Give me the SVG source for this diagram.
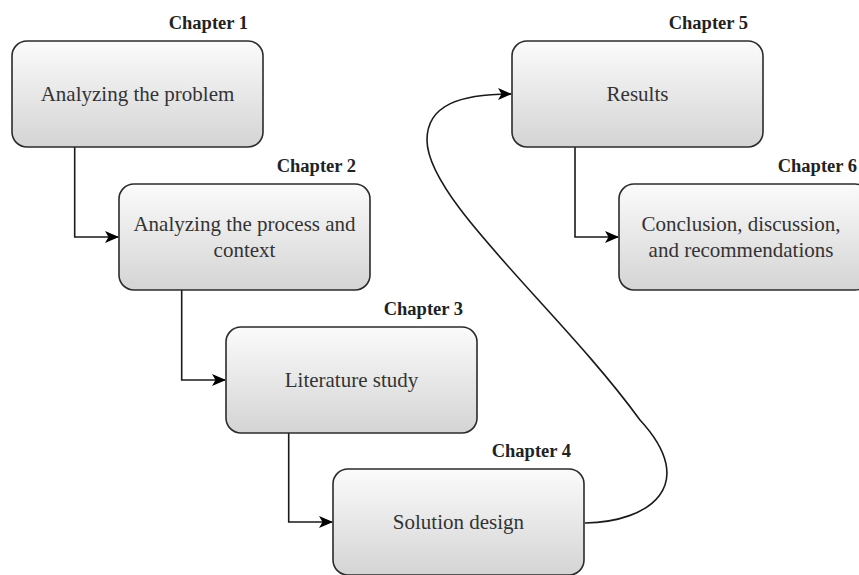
<svg xmlns="http://www.w3.org/2000/svg" width="859" height="575" viewBox="0 0 859 575">
<style>
.box{fill:url(#g);stroke:#2b2b2b;stroke-width:1.6}
.t{font-family:"Liberation Serif","Times New Roman",serif;font-size:21px;fill:#333;text-anchor:middle}
.c{font-family:"Liberation Serif","Times New Roman",serif;font-size:18.5px;font-weight:bold;fill:#222;text-anchor:end}
.e{fill:none;stroke:#1a1a1a;stroke-width:1.6}
</style>
<defs>
<linearGradient id="g" x1="0" y1="0" x2="0" y2="1">
<stop offset="0" stop-color="#fbfbfb"/>
<stop offset="1" stop-color="#d4d4d4"/>
</linearGradient>
<marker id="a" viewBox="0 0 14 12" refX="13" refY="6" markerWidth="14" markerHeight="12" markerUnits="userSpaceOnUse" orient="auto">
<path d="M0,0 L14,6 L0,12 L3.5,6 Z" fill="#000"/>
</marker>
</defs>
<g id="connectors">
<path class="e" d="M74.7,147 V237 H118" marker-end="url(#a)"/>
<path class="e" d="M181.7,290 V380 H225" marker-end="url(#a)"/>
<path class="e" d="M288.7,433 V522 H332" marker-end="url(#a)"/>
<path class="e" d="M575,147 V237 H618" marker-end="url(#a)"/>
<path class="e" d="M585,523 C650,522 700,485 640,420 C560,310 427,200 427,140 C427,105 460,94 511,94" marker-end="url(#a)"/>
</g>
<g id="n1">
<rect class="box" x="12" y="41" width="251" height="106" rx="15"/>
<text class="c" x="248" y="29">Chapter 1</text>
<text class="t" x="137.5" y="101">Analyzing the problem</text>
</g>
<g id="n2">
<rect class="box" x="119" y="184" width="251" height="106" rx="15"/>
<text class="c" x="356" y="172">Chapter 2</text>
<text class="t" x="244.5" y="231">Analyzing the process and</text>
<text class="t" x="244.5" y="257">context</text>
</g>
<g id="n3">
<rect class="box" x="226" y="327" width="251" height="106" rx="15"/>
<text class="c" x="463" y="315">Chapter 3</text>
<text class="t" x="351.5" y="387">Literature study</text>
</g>
<g id="n4">
<rect class="box" x="333" y="469" width="251" height="106" rx="15"/>
<text class="c" x="571" y="457">Chapter 4</text>
<text class="t" x="458.5" y="529">Solution design</text>
</g>
<g id="n5">
<rect class="box" x="512" y="41" width="251" height="106" rx="15"/>
<text class="c" x="748" y="29">Chapter 5</text>
<text class="t" x="637.5" y="101">Results</text>
</g>
<g id="n6">
<rect class="box" x="619" y="184" width="251" height="106" rx="15"/>
<text class="c" x="857" y="172">Chapter 6</text>
<text class="t" x="741" y="231">Conclusion, discussion,</text>
<text class="t" x="741" y="257">and recommendations</text>
</g>
</svg>
